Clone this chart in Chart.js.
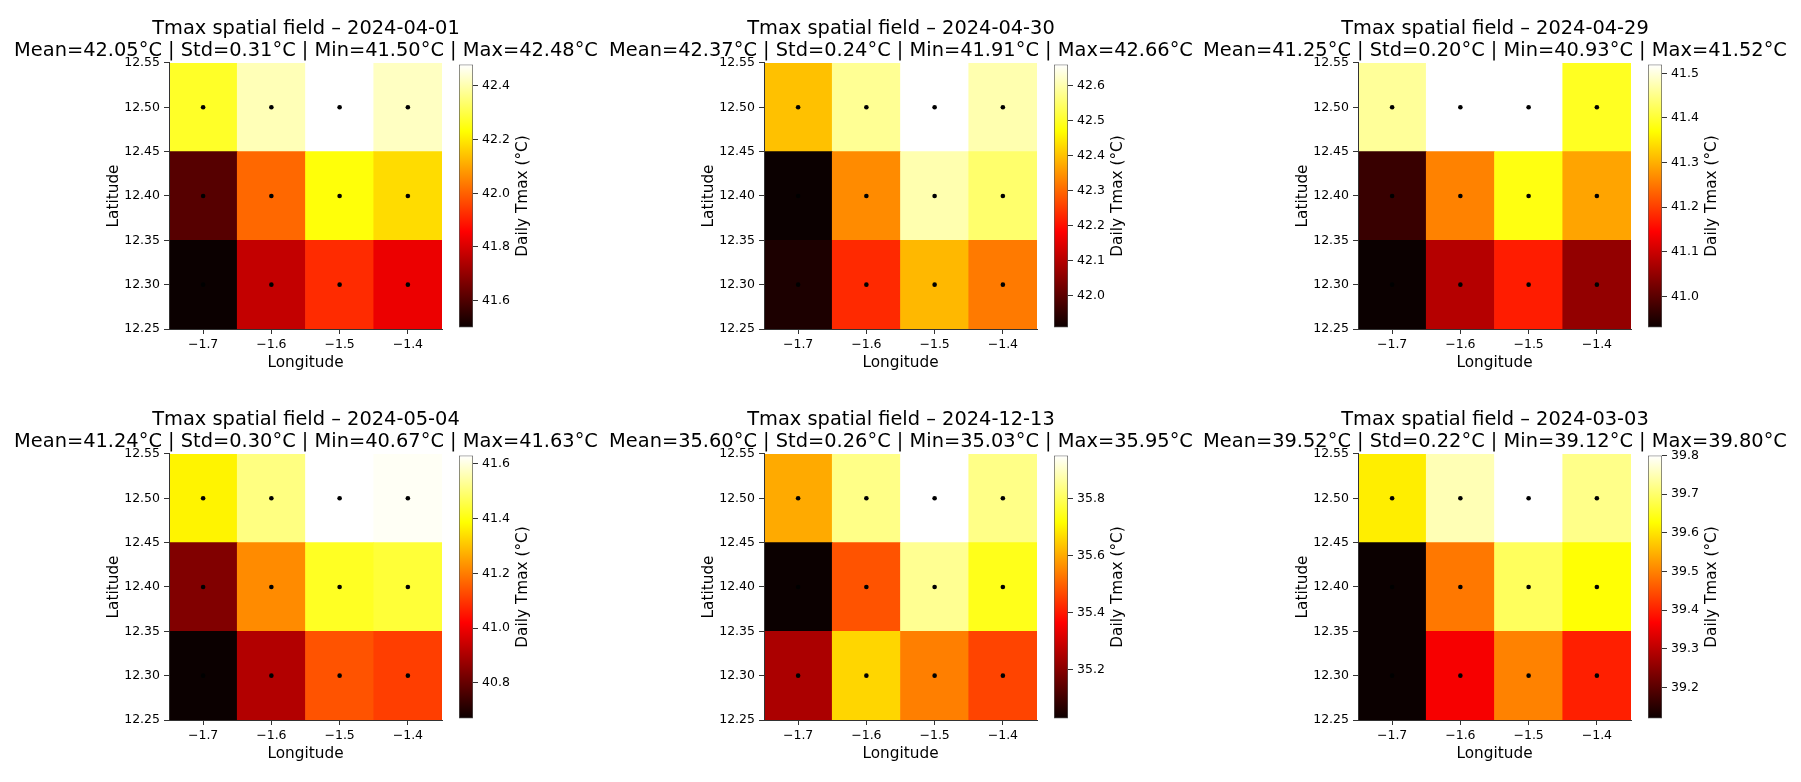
<html>

<head>
  <!-- Chart.js -->
  <script src="https://cdn.jsdelivr.net/npm/chart.js@4.4.1/dist/chart.umd.min.js"></script>
  <style>
    body { margin: 0; background: #fff; width: 1801px; height: 782px; position: relative; overflow: hidden; }
    canvas { position: absolute; }
  </style>
</head>

<body>
<script>
  // Grid cell centres (rows go north to south) and axis ticks.
  const lonValues = [-1.7, -1.6, -1.5, -1.4];
  const latValues = [12.5, 12.4, 12.3];
  const lonTicks = [-1.7, -1.6, -1.5, -1.4];
  const lonTickLabels = ['\u22121.7', '\u22121.6', '\u22121.5', '\u22121.4'];
  const latTicks = [12.25, 12.30, 12.35, 12.40, 12.45, 12.50, 12.55];
  const latTickLabels = ['12.25', '12.30', '12.35', '12.40', '12.45', '12.50', '12.55'];

  // Panel dates and summary lines.
  const dates = ['2024-04-01', '2024-04-30', '2024-04-29', '2024-05-04', '2024-12-13', '2024-03-03'];
  const statLines = [
    'Mean=42.05°C | Std=0.31°C | Min=41.50°C | Max=42.48°C',
    'Mean=42.37°C | Std=0.24°C | Min=41.91°C | Max=42.66°C',
    'Mean=41.25°C | Std=0.20°C | Min=40.93°C | Max=41.52°C',
    'Mean=41.24°C | Std=0.30°C | Min=40.67°C | Max=41.63°C',
    'Mean=35.60°C | Std=0.26°C | Min=35.03°C | Max=35.95°C',
    'Mean=39.52°C | Std=0.22°C | Min=39.12°C | Max=39.80°C'
  ];

  // Daily Tmax per cell, one row per latitude.
  const tmax20240401 = [
    [42.27, 42.41, 42.48, 42.42],
    [41.61, 42.01, 42.24, 42.18],
    [41.50, 41.77, 41.92, 41.83]
  ];
  const tmax20240430 = [
    [42.40, 42.58, 42.66, 42.60],
    [41.91, 42.34, 42.60, 42.55],
    [41.93, 42.23, 42.39, 42.32]
  ];
  const tmax20240429 = [
    [41.46, 41.52, 41.52, 41.39],
    [40.97, 41.26, 41.38, 41.29],
    [40.93, 41.08, 41.17, 41.05]
  ];
  const tmax20240504 = [
    [41.37, 41.51, 41.63, 41.62],
    [40.84, 41.22, 41.42, 41.44],
    [40.67, 40.91, 41.14, 41.11]
  ];
  const tmax20241213 = [
    [35.60, 35.84, 35.95, 35.84],
    [35.03, 35.48, 35.85, 35.74],
    [35.25, 35.66, 35.54, 35.46]
  ];
  const tmax20240303 = [
    [39.61, 39.75, 39.80, 39.72],
    [39.12, 39.49, 39.69, 39.63],
    [39.12, 39.36, 39.50, 39.40]
  ];

  // Colorbar ticks per panel.
  const cbarTicks20240401 = [41.6, 41.8, 42.0, 42.2, 42.4];
  const cbarTicks20240430 = [42.0, 42.1, 42.2, 42.3, 42.4, 42.5, 42.6];
  const cbarTicks20240429 = [41.0, 41.1, 41.2, 41.3, 41.4, 41.5];
  const cbarTicks20240504 = [40.8, 41.0, 41.2, 41.4, 41.6];
  const cbarTicks20241213 = [35.2, 35.4, 35.6, 35.8];
  const cbarTicks20240303 = [39.2, 39.3, 39.4, 39.5, 39.6, 39.7, 39.8];

  const fields = [tmax20240401, tmax20240430, tmax20240429, tmax20240504, tmax20241213, tmax20240303];
  const cbarTicks = [cbarTicks20240401, cbarTicks20240430, cbarTicks20240429, cbarTicks20240504, cbarTicks20241213, cbarTicks20240303];

  Chart.defaults.font.family = '"DejaVu Sans", sans-serif';
  Chart.defaults.color = '#000';

  // matplotlib "hot" colormap.
  function hot(t) {
    t = Math.min(1, Math.max(0, t));
    const r = t < 0.365079 ? 0.0416 + (1 - 0.0416) * t / 0.365079 : 1;
    const g = t < 0.365079 ? 0 : (t < 0.746032 ? (t - 0.365079) / (0.746032 - 0.365079) : 1);
    const b = t < 0.746032 ? 0 : (t - 0.746032) / (1 - 0.746032);
    return 'rgb(' + Math.round(r * 255) + ',' + Math.round(g * 255) + ',' + Math.round(b * 255) + ')';
  }

  function hotGradient(c) {
    const area = c.chart.chartArea;
    if (!area) return 'transparent';
    const g = c.chart.ctx.createLinearGradient(0, area.bottom, 0, area.top);
    g.addColorStop(0, 'rgb(11,0,0)');
    g.addColorStop(0.365079, 'rgb(255,0,0)');
    g.addColorStop(0.746032, 'rgb(255,255,0)');
    g.addColorStop(1, 'rgb(255,255,255)');
    return g;
  }

  // Rotated colorbar label, reading bottom to top like matplotlib.
  const cbarLabelPlugin = {
    id: 'cbarLabel',
    afterDraw(chart, args, opts) {
      const { ctx, chartArea } = chart;
      ctx.save();
      ctx.translate(chartArea.right + 50, (chartArea.top + chartArea.bottom) / 2);
      ctx.rotate(-Math.PI / 2);
      ctx.font = '15.3px "DejaVu Sans"';
      ctx.fillStyle = '#000';
      ctx.textAlign = 'center';
      ctx.textBaseline = 'middle';
      ctx.fillText(opts.text, 0, 0);
      ctx.restore();
    }
  };

  function addCanvas(left, top, w, h) {
    const cv = document.createElement('canvas');
    cv.width = w;
    cv.height = h;
    cv.style.left = left + 'px';
    cv.style.top = top + 'px';
    document.body.appendChild(cv);
    return cv.getContext('2d');
  }

  const plotLefts = [169, 764, 1358];
  const plotTops = [63, 454];
  const plotW = 273;
  const half = (lonValues[1] - lonValues[0]) / 2;

  fields.forEach((field, i) => {
    const col = i % 3;
    const row = Math.floor(i / 3);
    const all = field.flat();
    const vmin = Math.min(...all);
    const vmax = Math.max(...all);

    const cells = [];
    const colors = [];
    const points = [];
    latValues.forEach((lat, r) => {
      lonValues.forEach((lon, c) => {
        cells.push({ x: lon, y: [lat - half, lat + half] });
        colors.push(hot((field[r][c] - vmin) / (vmax - vmin)));
        points.push({ x: lon, y: lat });
      });
    });

    // Heatmap panel.
    const ctx = addCanvas(plotLefts[col] - 160, plotTops[row] - 63, 594, 374);
    new Chart(ctx, {
      type: 'bar',
      data: {
        datasets: [
          {
            type: 'scatter',
            data: points,
            pointRadius: 2.3,
            pointBackgroundColor: '#000',
            pointBorderWidth: 0,
            order: 0
          },
          {
            data: cells,
            backgroundColor: colors,
            borderWidth: 0,
            barPercentage: 1,
            categoryPercentage: 1,
            order: 1
          }
        ]
      },
      options: {
        responsive: false,
        animation: false,
        devicePixelRatio: 1,
        layout: { padding: 0, autoPadding: false },
        plugins: {
          legend: { display: false },
          tooltip: { enabled: false },
          title: {
            display: true,
            text: ['Tmax spatial field \u2013 ' + dates[i], statLines[i]],
            color: '#000',
            font: { size: 19.4, weight: 'normal', lineHeight: 1.12 },
            padding: { top: 18.4, bottom: 1.1 }
          }
        },
        scales: {
          x: {
            type: 'linear',
            min: -1.75,
            max: -1.35,
            offset: false,
            bounds: 'data',
            afterBuildTicks: (axis) => { axis.ticks = lonTicks.map((v) => ({ value: v })); },
            afterFit: (axis) => { axis.height = 45; },
            ticks: {
              callback: (v, idx) => lonTickLabels[idx],
              font: { size: 12.5 },
              color: '#000',
              padding: 3,
              maxRotation: 0,
              autoSkip: false
            },
            grid: { drawOnChartArea: false, drawTicks: true, tickLength: 5, tickColor: '#333', offset: false },
            border: { display: true, color: '#333', width: 1, z: 1 },
            title: { display: true, text: 'Longitude', color: '#000', font: { size: 15.3 }, padding: { top: 0, bottom: 1.5 } }
          },
          y: {
            type: 'linear',
            position: 'left',
            min: 12.25,
            max: 12.55,
            bounds: 'data',
            afterBuildTicks: (axis) => { axis.ticks = latTicks.map((v) => ({ value: v })); },
            afterFit: (axis) => { axis.width = 160; },
            ticks: {
              callback: (v, idx) => latTickLabels[idx],
              font: { size: 12.5 },
              color: '#000',
              padding: 4,
              autoSkip: false
            },
            grid: { drawOnChartArea: false, drawTicks: true, tickLength: 5, tickColor: '#333' },
            border: { display: true, color: '#333', width: 1, z: 1 },
            title: { display: true, text: 'Latitude', color: '#000', font: { size: 15.3 }, padding: { top: 95.8, bottom: 0 } }
          },
          // empty right axis so the title is centred over the axes
          y2: {
            type: 'linear',
            position: 'right',
            grid: { display: false },
            ticks: { display: false },
            border: { display: false },
            afterFit: (axis) => { axis.width = 161; }
          }
        }
      }
    });

    // Colorbar.
    const cctx = addCanvas(plotLefts[col] + plotW + 13, plotTops[row] - 10, 98, 286);
    new Chart(cctx, {
      type: 'bar',
      data: {
        labels: [''],
        datasets: [{
          data: [[vmin, vmax]],
          backgroundColor: hotGradient,
          borderColor: '#555',
          borderWidth: 1,
          borderSkipped: false,
          barPercentage: 1,
          categoryPercentage: 1
        }]
      },
      options: {
        responsive: false,
        animation: false,
        devicePixelRatio: 1,
        layout: { padding: { left: 4, right: 0, top: 10, bottom: 10 }, autoPadding: false },
        plugins: {
          legend: { display: false },
          tooltip: { enabled: false },
          cbarLabel: { text: 'Daily Tmax (°C)' }
        },
        scales: {
          x: { display: false },
          y: {
            position: 'right',
            min: vmin,
            max: vmax,
            afterBuildTicks: (axis) => { axis.ticks = cbarTicks[i].map((v) => ({ value: v })); },
            afterFit: (axis) => { axis.width = 80; },
            ticks: { callback: (v) => v.toFixed(1), font: { size: 12.5 }, color: '#000', padding: 4, autoSkip: false },
            grid: { drawOnChartArea: false, drawTicks: true, tickLength: 5, tickColor: '#333' },
            border: { display: false }
          }
        }
      },
      plugins: [cbarLabelPlugin]
    });
  });
</script>
</body>

</html>
